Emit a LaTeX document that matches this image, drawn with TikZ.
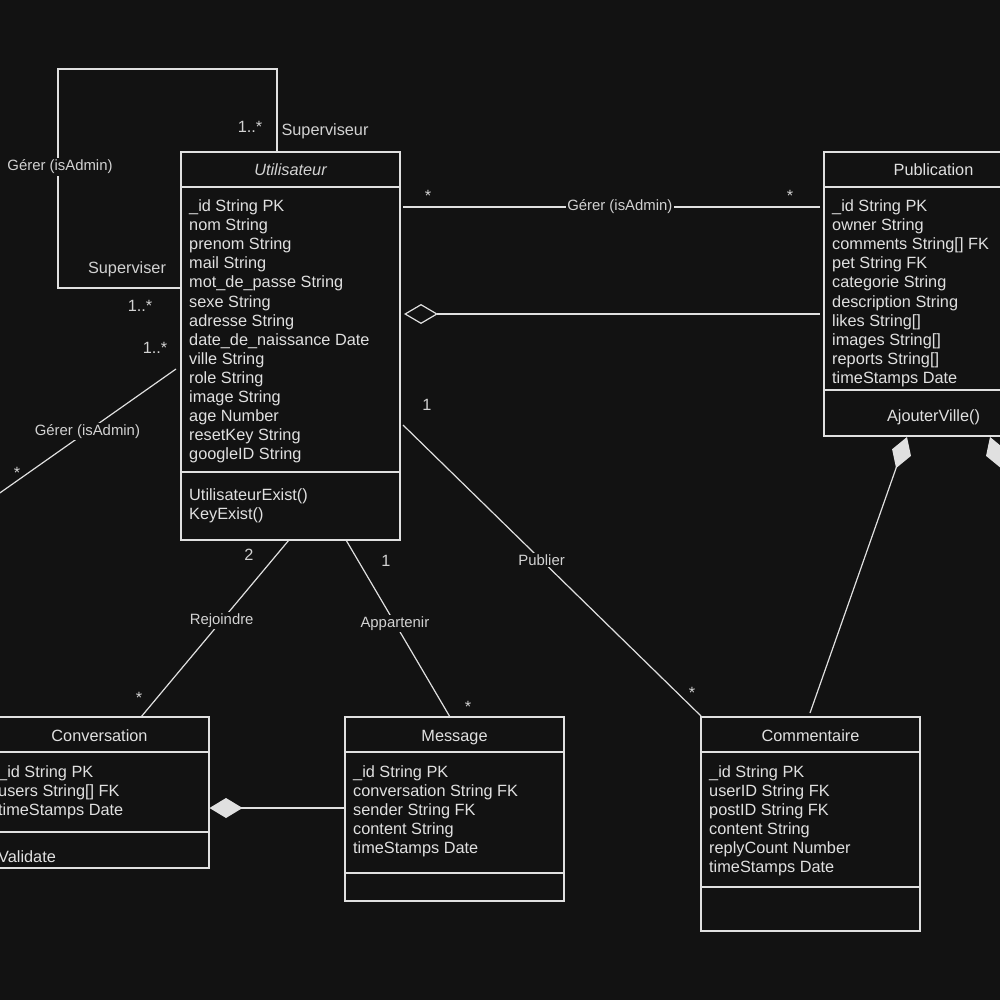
\documentclass[tikz,border=0pt]{standalone}
\usepackage{fontspec}
\setmainfont{Liberation Sans}
\usetikzlibrary{calc,arrows.meta}

\definecolor{bg}{HTML}{121212}
\definecolor{ink}{HTML}{E0E0E0}
\definecolor{lbl}{HTML}{D2D2D2}

\tikzset{
  classbox/.style={draw=ink, line width=1.3pt, rectangle, inner sep=0pt, outer sep=0pt,
                   anchor=north west, minimum width=219pt},
  sepline/.style={draw=ink, line width=1.3pt},
  attr/.style={text=ink, font=\fontsize{16.3}{19}\selectfont, inner sep=0pt, anchor=base west},
  ctitle/.style={text=ink, font=\fontsize{16.3}{19}\selectfont, inner sep=0pt, anchor=base},
  conn/.style={draw=ink, line width=1.2pt},
  edgelabel/.style={text=lbl, font=\fontsize{14.9}{17}\selectfont, fill=bg, inner sep=1.5pt},
  mult/.style={text=lbl, font=\fontsize{16.3}{19}\selectfont, inner sep=0pt, anchor=base},
  opendiamond/.style={{Diamond[open, length=34pt, width=20pt, line width=1.2pt]}-},
  fulldiamond/.style={{Diamond[length=33pt, width=20pt, fill=ink]}-},
}

\begin{document}
\begin{tikzpicture}[x=1pt, y=-1pt]
  \fill[bg] (0,0) rectangle (1000,1000);
  \useasboundingbox (0,0) rectangle (1000,1000);
  \clip (0,0) rectangle (1000,1000);

  % ---------- classes ----------
  \node[classbox, minimum height=388pt] (util) at (181,152) {};
  \draw[sepline] ($(util.north west)+(0,35)$) -- ($(util.north east)+(0,35)$);
  \draw[sepline] ($(util.north west)+(0,320)$) -- ($(util.north east)+(0,320)$);
  \node[ctitle, text=lbl, font=\fontsize{16.3}{19}\selectfont\itshape] (util-t) at ($(util.north west)+(109.5,24)$) {Utilisateur};
  \foreach \t [count=\i from 0] in {\_id String PK, nom String, prenom String, mail String,
      mot\_de\_passe String, sexe String, adresse String, date\_de\_naissance Date,
      ville String, role String, image String, age Number, resetKey String, googleID String}
    \node[attr] (util-a\i) at ($(util.north west)+(8,59.5+19.1*\i)$) {\t};
  \node[attr] (util-m0) at ($(util.north west)+(8,348)$) {UtilisateurExist()};
  \node[attr] (util-m1) at ($(util.north west)+(8,367.5)$) {KeyExist()};

  \node[classbox, minimum height=284pt] (pub) at (824,152) {};
  \draw[sepline] ($(pub.north west)+(0,35)$) -- ($(pub.north east)+(0,35)$);
  \draw[sepline] ($(pub.north west)+(0,238)$) -- ($(pub.north east)+(0,238)$);
  \node[ctitle] (pub-t) at ($(pub.north west)+(109.5,24)$) {Publication};
  \foreach \t [count=\i from 0] in {\_id String PK, owner String, comments String[] FK,
      pet String FK, categorie String, description String, likes String[],
      images String[], reports String[], timeStamps Date}
    \node[attr] (pub-a\i) at ($(pub.north west)+(8,59.5+19.1*\i)$) {\t};
  \node[ctitle] (pub-m0) at ($(pub.north west)+(109.5,269)$) {AjouterVille()};

  \node[classbox, minimum height=151pt] (conv) at (-10,717) {};
  \draw[sepline] ($(conv.north west)+(0,35)$) -- ($(conv.north east)+(0,35)$);
  \draw[sepline] ($(conv.north west)+(0,115)$) -- ($(conv.north east)+(0,115)$);
  \node[ctitle] (conv-t) at ($(conv.north west)+(109.5,24.5)$) {Conversation};
  \foreach \t [count=\i from 0] in {\_id String PK, users String[] FK, timeStamps Date}
    \node[attr] (conv-a\i) at ($(conv.north west)+(8,60+19.1*\i)$) {\t};
  \node[attr] (conv-m0) at ($(conv.north west)+(8,145)$) {Validate};

  \node[classbox, minimum height=184pt] (msg) at (345,717) {};
  \draw[sepline] ($(msg.north west)+(0,35)$) -- ($(msg.north east)+(0,35)$);
  \draw[sepline] ($(msg.north west)+(0,156)$) -- ($(msg.north east)+(0,156)$);
  \node[ctitle] (msg-t) at ($(msg.north west)+(109.5,24.5)$) {Message};
  \foreach \t [count=\i from 0] in {\_id String PK, conversation String FK,
      sender String FK, content String, timeStamps Date}
    \node[attr] (msg-a\i) at ($(msg.north west)+(8,60+19.1*\i)$) {\t};

  \node[classbox, minimum height=214pt] (comm) at (701,717) {};
  \draw[sepline] ($(comm.north west)+(0,35)$) -- ($(comm.north east)+(0,35)$);
  \draw[sepline] ($(comm.north west)+(0,170)$) -- ($(comm.north east)+(0,170)$);
  \node[ctitle] (comm-t) at ($(comm.north west)+(109.5,24.5)$) {Commentaire};
  \foreach \t [count=\i from 0] in {\_id String PK, userID String FK, postID String FK,
      content String, replyCount Number, timeStamps Date}
    \node[attr] (comm-a\i) at ($(comm.north west)+(8,60+19.1*\i)$) {\t};

  % ---------- associations ----------
  % self association Superviseur / Superviser
  \coordinate (loopTR) at (277,69);
  \coordinate (loopTL) at (58,69);
  \draw[conn] ($(util.north west)+(96,0)$) -- (loopTR) -- (loopTL)
      |- ($(util.north west)+(0,136)$);
  \node[edgelabel] (loop-l) at (60,167) {Gérer (isAdmin)};
  \node[mult] (loop-m1) at (250,133) {1..*};
  \node[mult] (loop-r1) at (325,136) {Superviseur};
  \node[mult] (loop-r2) at (127,273) {Superviser};
  \node[mult] (loop-m2) at (140,311) {1..*};

  % Gerer : Utilisateur -- Publication
  \draw[conn] ($(util.north east)+(3,55)$) -- ($(pub.north west)+(-4,55)$)
      node[edgelabel, pos=0.52] (gp-l) {Gérer (isAdmin)};
  \node[mult] (gp-m1) at (428,202) {*};
  \node[mult] (gp-m2) at (790,202) {*};

  % aggregation Utilisateur <>-- Publication
  \draw[conn, opendiamond] ($(util.north east)+(4,162)$) -- ($(pub.north west)+(-4,162)$);

  % Gerer : Utilisateur -- (off page)
  \coordinate (offL) at (-40,521);
  \draw[conn] ($(util.north west)+(-5,217)$) -- (offL)
      node[edgelabel, pos=0.41] (ga-l) {Gérer (isAdmin)};
  \node[mult] (ga-m1) at (155,353) {1..*};
  \node[mult] (ga-m2) at (17,478) {*};

  % Publier
  \draw[conn] ($(util.north east)+(3,273)$) -- ($(comm.north west)+(0,-1)$)
      node[edgelabel, pos=0.465] (pu-l) {Publier};
  \node[mult] (pu-m1) at (427,410) {1};
  \node[mult] (pu-m2) at (692,698) {*};

  % Rejoindre
  \draw[conn] ($(util.south west)+(108,0)$) -- ($(conv.north west)+(151,0)$)
      node[edgelabel, pos=0.455] (rj-l) {Rejoindre};
  \node[mult] (rj-m1) at (249,560) {2};
  \node[mult] (rj-m2) at (139,703) {*};

  % Appartenir
  \draw[conn] ($(util.south west)+(165,0)$) -- ($(msg.north west)+(105,0)$)
      node[edgelabel, pos=0.47] (ap-l) {Appartenir};
  \node[mult] (ap-m1) at (386,566) {1};
  \node[mult] (ap-m2) at (468,712) {*};

  % compositions
  \draw[conn, fulldiamond] ($(conv.north east)+(0.5,91)$) -- ($(msg.north west)+(0,91)$);
  \draw[conn, fulldiamond] ($(pub.south west)+(83,1)$) -- ($(comm.north west)+(109,-4)$);
  \coordinate (offR) at (1087,713);
  \draw[conn, fulldiamond] ($(pub.south west)+(166,1)$) -- (offR);
\end{tikzpicture}
\end{document}
